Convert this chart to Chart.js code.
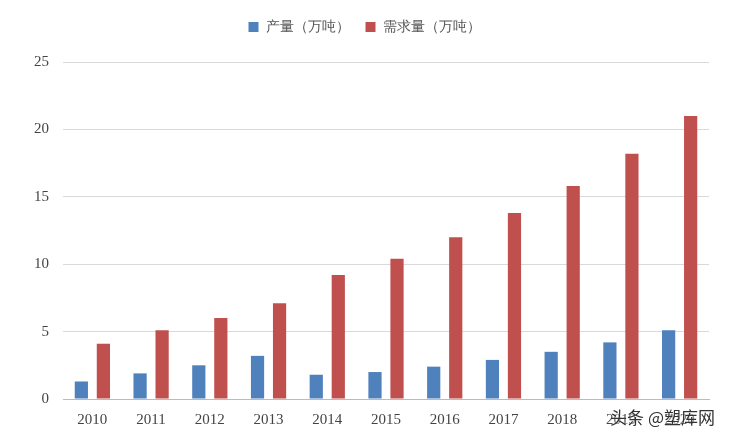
<!DOCTYPE html>
<html><head><meta charset="utf-8">
<script src="https://cdn.jsdelivr.net/npm/chart.js@4"></script>
<style>
body{margin:0;background:#fff;font-family:"Noto Sans CJK SC","DejaVu Sans",sans-serif}
#wrap{position:relative;width:729px;height:437px}
#mark{position:absolute;right:14px;bottom:8px;font-size:17px;color:#333;text-shadow:0 0 3px #fff}
</style></head>
<body><div id="wrap"><canvas id="c" width="729" height="437"></canvas><div id="mark">头条 @塑库网</div></div>
<script>
const years = ['2010','2011','2012','2013','2014','2015','2016','2017','2018','2019','2020'];
const output = [1.3, 1.9, 2.5, 3.2, 1.8, 2.0, 2.4, 2.9, 3.5, 4.2, 5.1];
const demand = [4.1, 5.1, 6.0, 7.1, 9.2, 10.4, 12.0, 13.8, 15.8, 18.2, 21.0];

new Chart(document.getElementById('c'), {
  type: 'bar',
  data: { labels: years, datasets: [
    { label: '产量（万吨）', data: output, backgroundColor: '#4f81bd', barPercentage: 0.6, categoryPercentage: 0.75 },
    { label: '需求量（万吨）', data: demand, backgroundColor: '#c0504d', barPercentage: 0.6, categoryPercentage: 0.75 }
  ]},
  options: {
    responsive: false, animation: false,
    layout: { padding: { left: 20, right: 20, top: 4, bottom: 4 } },
    plugins: {
      legend: { position: 'top', labels: { boxWidth: 10, boxHeight: 10, color: '#555', font: { size: 14 }, padding: 16 } },
      tooltip: { enabled: false }
    },
    scales: {
      x: { grid: { display: false }, border: { color: '#bbb' },
           ticks: { color: '#444', padding: 4, font: { family: 'Liberation Serif', size: 15 } } },
      y: { min: 0, max: 25, ticks: { stepSize: 5, color: '#444', padding: 14, font: { family: 'Liberation Serif', size: 15 } },
           grid: { color: '#d9d9d9', drawTicks: false }, border: { display: false } }
    }
  },
  plugins: [{ id: 'legendGap', beforeInit(chart) {
    const fit = chart.legend.fit;
    chart.legend.fit = function () { fit.bind(chart.legend)(); this.height += 18; };
  } }]
});
</script></body></html>
